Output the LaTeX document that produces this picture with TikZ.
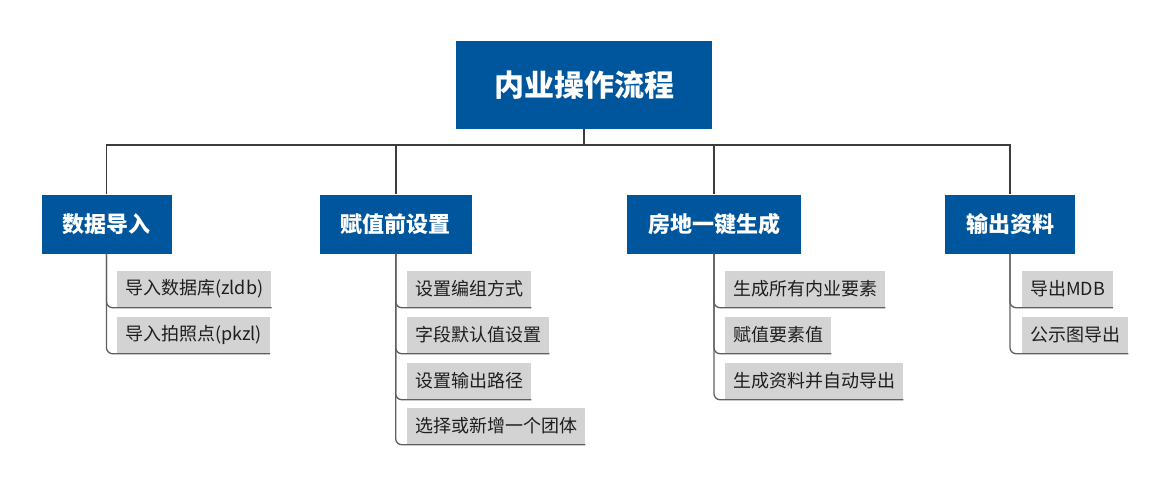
\documentclass[tikz,border=0pt]{standalone}
\usepackage{fontspec}
\newfontfamily\cjk{Noto Sans CJK SC}
\usetikzlibrary{positioning}
\definecolor{hblue}{RGB}{0,86,156}
\definecolor{leafgray}{RGB}{211,211,211}
\definecolor{topline}{RGB}{60,60,60}
\definecolor{leafline}{RGB}{95,95,95}
\definecolor{leaftext}{RGB}{30,30,30}
\tikzset{
  rootbox/.style={fill=hblue, text=white, font=\cjk\bfseries\fontsize{30}{34}\selectfont,
    minimum width=256pt, minimum height=88pt, inner sep=0pt},
  catbox/.style={fill=hblue, text=white, font=\cjk\bfseries\fontsize{22}{26}\selectfont,
    inner xsep=21pt, minimum height=59pt, inner ysep=0pt},
  leafbox/.style={fill=leafgray, text=leaftext, font=\cjk\fontsize{18}{22}\selectfont,
    inner xsep=8pt, minimum height=37pt, inner ysep=0pt, anchor=west},
  treeline/.style={draw=topline, line width=1.6pt},
  leafconn/.style={draw=leafline, line width=1.3pt, rounded corners=6pt},
}
\begin{document}
\begin{tikzpicture}[x=1pt,y=-1pt]
\useasboundingbox (0,0) rectangle (1171,479);
\node[rootbox] (root) at (584,85) {内业操作流程};
\coordinate (bar) at (584,145);
\node[catbox] (c1) at (106.5,224) {数据导入};
\node[catbox] (c2) at (395.7,224) {赋值前设置};
\node[catbox] (c3) at (714,224) {房地一键生成};
\node[catbox] (c4) at (1010,224) {输出资料};

\draw[treeline] (root.south) -- (bar);
\foreach \c in {c1,c2,c3,c4} \draw[treeline] (\c.north) |- (bar);

\node[leafbox] (l11) at (117,289) {导入数据库(zldb)};
\node[leafbox] (l12) at (117,335) {导入拍照点(pkzl)};

\node[leafbox] (l21) at (407,289) {设置编组方式};
\node[leafbox] (l22) at (407,335) {字段默认值设置};
\node[leafbox] (l23) at (407,381) {设置输出路径};
\node[leafbox] (l24) at (407,426) {选择或新增一个团体};

\node[leafbox] (l31) at (725,289) {生成所有内业要素};
\node[leafbox] (l32) at (725,335) {赋值要素值};
\node[leafbox] (l33) at (725,381) {生成资料并自动导出};

\node[leafbox] (l41) at (1022,289) {导出MDB};
\node[leafbox] (l42) at (1022,335) {公示图导出};

\foreach \c/\l in {c1/l11,c1/l12,c2/l21,c2/l22,c2/l23,c2/l24,c3/l31,c3/l32,c3/l33,c4/l41,c4/l42}
  \draw[leafconn] (\c.south) |- (\l.south east);
\end{tikzpicture}
\end{document}
